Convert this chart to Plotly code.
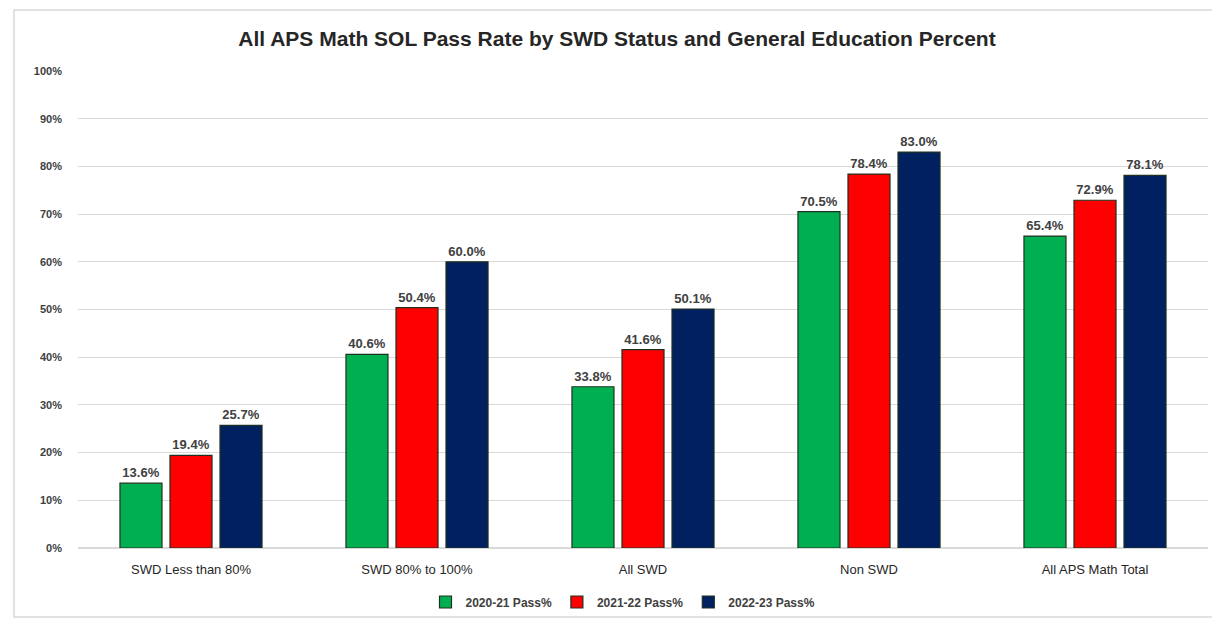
import plotly.graph_objects as go

categories = ["SWD Less than 80%", "SWD 80% to 100%", "All SWD", "Non SWD", "All APS Math Total"]
series_names = ["2020-21 Pass%", "2021-22 Pass%", "2022-23 Pass%"]
pass_2020_21 = [13.6, 40.6, 33.8, 70.5, 65.4]
pass_2021_22 = [19.4, 50.4, 41.6, 78.4, 72.9]
pass_2022_23 = [25.7, 60.0, 50.1, 83.0, 78.1]
colors = ["#00B050", "#FF0000", "#002060"]
y_ticks = [0, 10, 20, 30, 40, 50, 60, 70, 80, 90, 100]

W, H = 1212, 621
L, R, T, B = 78, 4, 71, 73
FONT = "Liberation Sans, Arial"

fig = go.Figure()
for name, vals, col in zip(series_names, [pass_2020_21, pass_2021_22, pass_2022_23], colors):
    fig.add_trace(go.Bar(
        name=name, x=categories, y=vals,
        marker=dict(color=col, line=dict(color="#203020", width=1.2)),
        text=[f"<b>{v:.1f}%</b>" for v in vals], textposition="outside",
        textfont=dict(family=FONT, size=13, color="#404040"),
        cliponaxis=False,
    ))

pw = W - L - R
ph = H - T - B
def px_x(x):
    return (x - L) / pw
def px_y(y):
    return (H - B - y) / ph

fig.update_layout(
    width=W, height=H,
    margin=dict(l=L, r=R, t=T, b=B),
    paper_bgcolor="white", plot_bgcolor="white",
    barmode="group", bargap=0.336, bargroupgap=0.16,
    title=dict(text="<b>All APS Math SOL Pass Rate by SWD Status and General Education Percent</b>",
               x=617 / W, xanchor="center", y=1 - 39 / H, yanchor="middle",
               font=dict(family=FONT, size=21, color="#262626")),
    font=dict(family=FONT, color="#404040"),
    xaxis=dict(showline=False, ticks="", tickfont=dict(size=13, color="#262626"), ticklabelstandoff=12),
    yaxis=dict(range=[0, 100], tickvals=y_ticks, ticktext=[f"<b>{t}%</b>" for t in y_ticks],
               showgrid=True, gridcolor="#D9D9D9", gridwidth=1, zeroline=True, zerolinecolor="#D9D9D9",
               tickfont=dict(size=11, color="#404040"), ticks="", ticklabelstandoff=15),
    legend=dict(orientation="h", x=px_x(623), xanchor="center", y=px_y(602), yanchor="middle",
                bgcolor="rgba(0,0,0,0)",
                font=dict(size=12, color="#404040", weight="bold"), traceorder="normal"),
    showlegend=True,
    shapes=[dict(type="rect", xref="paper", yref="paper",
                 x0=px_x(14), x1=px_x(1230), y0=px_y(617), y1=px_y(10),
                 line=dict(color="#D9D9D9", width=1.5), fillcolor="rgba(0,0,0,0)", layer="below")],
)

fig.write_html("out.html", config={"displayModeBar": False},
               post_script="document.body.style.margin='0px';")
